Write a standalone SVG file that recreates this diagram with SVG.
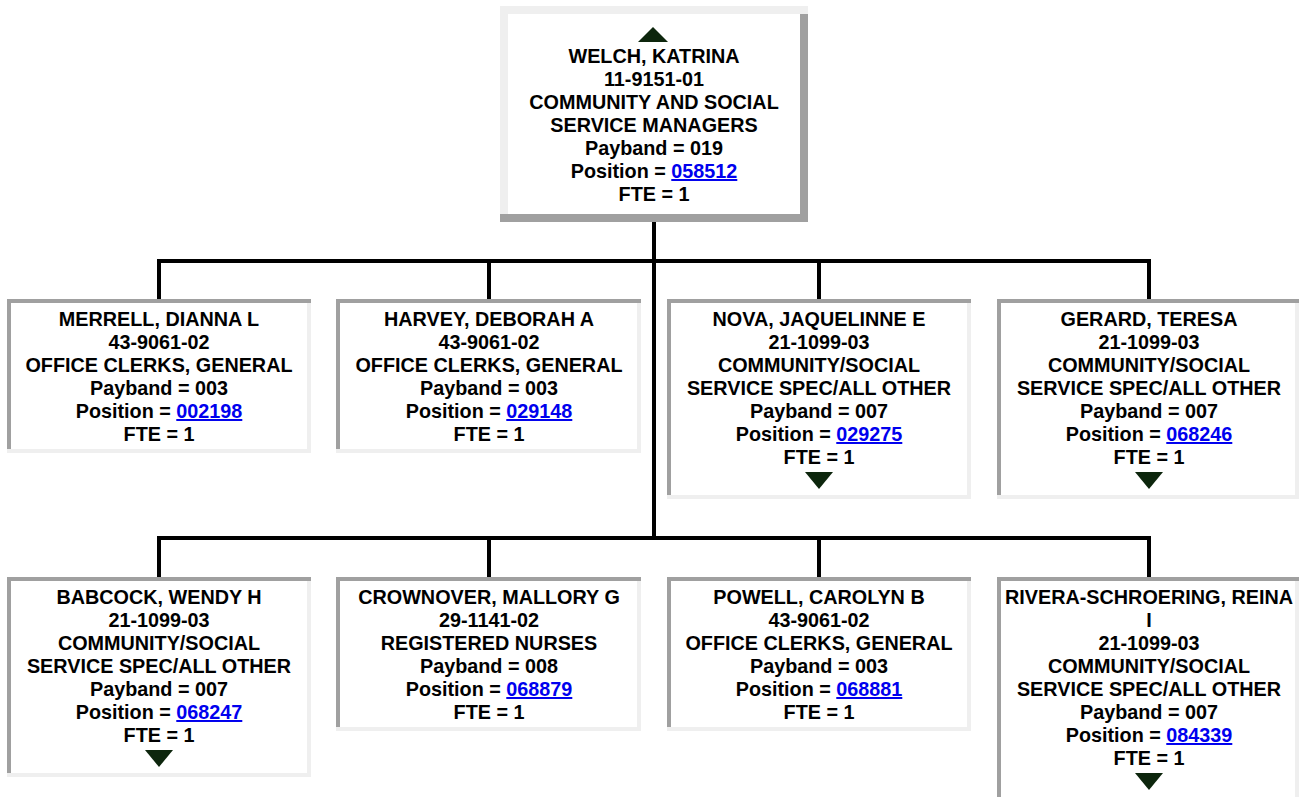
<svg xmlns="http://www.w3.org/2000/svg" width="1299" height="797" viewBox="0 0 1299 797">
<style>
.t{font-family:"Liberation Sans",Arial,sans-serif;font-weight:bold;font-size:19.8px;fill:#000;text-anchor:middle}
.lk{fill:#0000EE;text-decoration:underline}
.dk{fill:#a0a0a0}
.lt{fill:#efefef}
.bg{fill:#fff}
.ar{fill:#0d260d}
.cn{fill:#000}
</style>
<rect x="0" y="0" width="1299" height="797" fill="#fff"/>
<g id="connectors">
<rect class="cn" x="652" y="222" width="4" height="318"/>
<rect class="cn" x="157" y="259" width="994" height="4"/>
<rect class="cn" x="157" y="259" width="4" height="40"/>
<rect class="cn" x="487" y="259" width="4" height="40"/>
<rect class="cn" x="817" y="259" width="4" height="40"/>
<rect class="cn" x="1147" y="259" width="4" height="40"/>
<rect class="cn" x="157" y="536" width="994" height="4"/>
<rect class="cn" x="157" y="536" width="4" height="41"/>
<rect class="cn" x="487" y="536" width="4" height="41"/>
<rect class="cn" x="817" y="536" width="4" height="41"/>
<rect class="cn" x="1147" y="536" width="4" height="41"/>
</g>
<g id="node-welch">
<rect class="bg" x="500" y="6" width="308" height="216"/>
<rect class="lt" x="500" y="6" width="308" height="8"/>
<rect class="lt" x="500" y="6" width="8" height="216"/>
<rect class="dk" x="800" y="14" width="8" height="208"/>
<rect class="dk" x="500" y="214" width="308" height="8"/>
<polygon class="ar" points="638,42 668,42 653,27"/>
<text class="t" x="654" y="63">WELCH, KATRINA</text>
<text class="t" x="654" y="86">11-9151-01</text>
<text class="t" x="654" y="109">COMMUNITY AND SOCIAL</text>
<text class="t" x="654" y="132">SERVICE MANAGERS</text>
<text class="t" x="654" y="155">Payband = 019</text>
<text class="t" x="654" y="178">Position = <tspan class="lk">058512</tspan></text>
<text class="t" x="654" y="201">FTE = 1</text>
</g>
<g id="node-merrell">
<rect class="bg" x="7" y="299" width="304" height="154"/>
<rect class="dk" x="7" y="299" width="304" height="4"/>
<rect class="dk" x="7" y="299" width="4" height="150"/>
<rect class="lt" x="307" y="303" width="4" height="150"/>
<rect class="lt" x="7" y="449" width="304" height="4"/>
<text class="t" x="159" y="326">MERRELL, DIANNA L</text>
<text class="t" x="159" y="349">43-9061-02</text>
<text class="t" x="159" y="372">OFFICE CLERKS, GENERAL</text>
<text class="t" x="159" y="395">Payband = 003</text>
<text class="t" x="159" y="418">Position = <tspan class="lk">002198</tspan></text>
<text class="t" x="159" y="441">FTE = 1</text>
</g>
<g id="node-harvey">
<rect class="bg" x="336" y="299" width="305" height="154"/>
<rect class="dk" x="336" y="299" width="305" height="4"/>
<rect class="dk" x="336" y="299" width="4" height="150"/>
<rect class="lt" x="637" y="303" width="4" height="150"/>
<rect class="lt" x="336" y="449" width="305" height="4"/>
<text class="t" x="489" y="326">HARVEY, DEBORAH A</text>
<text class="t" x="489" y="349">43-9061-02</text>
<text class="t" x="489" y="372">OFFICE CLERKS, GENERAL</text>
<text class="t" x="489" y="395">Payband = 003</text>
<text class="t" x="489" y="418">Position = <tspan class="lk">029148</tspan></text>
<text class="t" x="489" y="441">FTE = 1</text>
</g>
<g id="node-nova">
<rect class="bg" x="667" y="299" width="304" height="200"/>
<rect class="dk" x="667" y="299" width="304" height="4"/>
<rect class="dk" x="667" y="299" width="4" height="196"/>
<rect class="lt" x="967" y="303" width="4" height="196"/>
<rect class="lt" x="667" y="495" width="304" height="4"/>
<text class="t" x="819" y="326">NOVA, JAQUELINNE E</text>
<text class="t" x="819" y="349">21-1099-03</text>
<text class="t" x="819" y="372">COMMUNITY/SOCIAL</text>
<text class="t" x="819" y="395">SERVICE SPEC/ALL OTHER</text>
<text class="t" x="819" y="418">Payband = 007</text>
<text class="t" x="819" y="441">Position = <tspan class="lk">029275</tspan></text>
<text class="t" x="819" y="464">FTE = 1</text>
<polygon class="ar" points="805,472 833,472 819,489"/>
</g>
<g id="node-gerard">
<rect class="bg" x="997" y="299" width="304" height="200"/>
<rect class="dk" x="997" y="299" width="304" height="4"/>
<rect class="dk" x="997" y="299" width="4" height="196"/>
<rect class="lt" x="1295" y="303" width="4" height="196"/>
<rect class="lt" x="997" y="495" width="304" height="4"/>
<text class="t" x="1149" y="326">GERARD, TERESA</text>
<text class="t" x="1149" y="349">21-1099-03</text>
<text class="t" x="1149" y="372">COMMUNITY/SOCIAL</text>
<text class="t" x="1149" y="395">SERVICE SPEC/ALL OTHER</text>
<text class="t" x="1149" y="418">Payband = 007</text>
<text class="t" x="1149" y="441">Position = <tspan class="lk">068246</tspan></text>
<text class="t" x="1149" y="464">FTE = 1</text>
<polygon class="ar" points="1135,472 1163,472 1149,489"/>
</g>
<g id="node-babcock">
<rect class="bg" x="7" y="577" width="304" height="200"/>
<rect class="dk" x="7" y="577" width="304" height="4"/>
<rect class="dk" x="7" y="577" width="4" height="196"/>
<rect class="lt" x="307" y="581" width="4" height="196"/>
<rect class="lt" x="7" y="773" width="304" height="4"/>
<text class="t" x="159" y="604">BABCOCK, WENDY H</text>
<text class="t" x="159" y="627">21-1099-03</text>
<text class="t" x="159" y="650">COMMUNITY/SOCIAL</text>
<text class="t" x="159" y="673">SERVICE SPEC/ALL OTHER</text>
<text class="t" x="159" y="696">Payband = 007</text>
<text class="t" x="159" y="719">Position = <tspan class="lk">068247</tspan></text>
<text class="t" x="159" y="742">FTE = 1</text>
<polygon class="ar" points="145,750 173,750 159,767"/>
</g>
<g id="node-crownover">
<rect class="bg" x="336" y="577" width="305" height="154"/>
<rect class="dk" x="336" y="577" width="305" height="4"/>
<rect class="dk" x="336" y="577" width="4" height="150"/>
<rect class="lt" x="637" y="581" width="4" height="150"/>
<rect class="lt" x="336" y="727" width="305" height="4"/>
<text class="t" x="489" y="604">CROWNOVER, MALLORY G</text>
<text class="t" x="489" y="627">29-1141-02</text>
<text class="t" x="489" y="650">REGISTERED NURSES</text>
<text class="t" x="489" y="673">Payband = 008</text>
<text class="t" x="489" y="696">Position = <tspan class="lk">068879</tspan></text>
<text class="t" x="489" y="719">FTE = 1</text>
</g>
<g id="node-powell">
<rect class="bg" x="667" y="577" width="304" height="154"/>
<rect class="dk" x="667" y="577" width="304" height="4"/>
<rect class="dk" x="667" y="577" width="4" height="150"/>
<rect class="lt" x="967" y="581" width="4" height="150"/>
<rect class="lt" x="667" y="727" width="304" height="4"/>
<text class="t" x="819" y="604">POWELL, CAROLYN B</text>
<text class="t" x="819" y="627">43-9061-02</text>
<text class="t" x="819" y="650">OFFICE CLERKS, GENERAL</text>
<text class="t" x="819" y="673">Payband = 003</text>
<text class="t" x="819" y="696">Position = <tspan class="lk">068881</tspan></text>
<text class="t" x="819" y="719">FTE = 1</text>
</g>
<g id="node-rivera">
<rect class="bg" x="997" y="577" width="304" height="224"/>
<rect class="dk" x="997" y="577" width="304" height="4"/>
<rect class="dk" x="997" y="577" width="4" height="224"/>
<rect class="lt" x="1295" y="581" width="4" height="220"/>
<text class="t" x="1149" y="604">RIVERA-SCHROERING, REINA</text>
<text class="t" x="1149" y="627">I</text>
<text class="t" x="1149" y="650">21-1099-03</text>
<text class="t" x="1149" y="673">COMMUNITY/SOCIAL</text>
<text class="t" x="1149" y="696">SERVICE SPEC/ALL OTHER</text>
<text class="t" x="1149" y="719">Payband = 007</text>
<text class="t" x="1149" y="742">Position = <tspan class="lk">084339</tspan></text>
<text class="t" x="1149" y="765">FTE = 1</text>
<polygon class="ar" points="1135,773 1163,773 1149,790"/>
</g>
</svg>
